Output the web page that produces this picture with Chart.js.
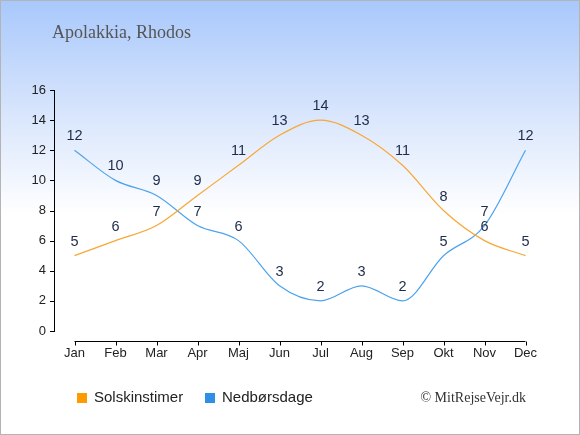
<!DOCTYPE html>
<html>
<head>
<meta charset="utf-8">
<script src="https://cdn.jsdelivr.net/npm/chart.js@4/dist/chart.umd.min.js"></script>
<style>
  body { margin: 0; background: #fff; }
  canvas { display: block; }
</style>
</head>
<body>
<canvas id="chart" width="580" height="435"></canvas>
<script>
const months = ["Jan", "Feb", "Mar", "Apr", "Maj", "Jun", "Jul", "Aug", "Sep", "Okt", "Nov", "Dec"];
const sunHours = [5, 6, 7, 9, 11, 13, 14, 13, 11, 8, 6, 5];
const rainDays = [12, 10, 9, 7, 6, 3, 2, 3, 2, 5, 7, 12];
const yTicks = [0, 2, 4, 6, 8, 10, 12, 14, 16];

const titleText = "Apolakkia, Rhodos";
const creditText = "\u00a9 MitRejseVejr.dk";

// background, frame, title, axes, labels, legend
const decor = {
  id: "decor",
  beforeDraw(chart) {
    const c = chart.ctx;
    const g = c.createLinearGradient(0, 0, 0, 215);
    g.addColorStop(0, "#a8c8fc");
    g.addColorStop(0.5, "#d6e4fc");
    g.addColorStop(1, "#ffffff");
    c.save();
    c.fillStyle = g;
    c.fillRect(0, 0, chart.width, chart.height);
    c.strokeStyle = "#b4b4b4";
    c.lineWidth = 1;
    c.strokeRect(0.5, 0.5, chart.width - 1, chart.height - 1);
    c.restore();
  },
  afterDatasetsDraw(chart) {
    const c = chart.ctx;
    const x = chart.scales.x;
    const y = chart.scales.y;
    const a = chart.chartArea;
    c.save();
    c.strokeStyle = "#000";
    c.lineWidth = 1;
    // y axis
    c.beginPath();
    c.moveTo(a.left + 0.5, y.getPixelForValue(16));
    c.lineTo(a.left + 0.5, y.getPixelForValue(0));
    yTicks.forEach(v => {
      const py = Math.round(y.getPixelForValue(v)) + 0.5;
      c.moveTo(a.left - 4, py);
      c.lineTo(a.left + 1, py);
    });
    // x axis, set a little below zero
    const ay = Math.round(a.bottom) + 10.5;
    c.moveTo(x.getPixelForValue(0), ay);
    c.lineTo(x.getPixelForValue(months.length - 1), ay);
    months.forEach((m, i) => {
      const px = Math.round(x.getPixelForValue(i)) + 0.5;
      c.moveTo(px, ay);
      c.lineTo(px, ay + 4);
    });
    c.stroke();

    // value labels above the points
    c.font = "14.5px 'Liberation Sans', Arial, sans-serif";
    c.fillStyle = "#1e2b4a";
    c.textAlign = "center";
    c.textBaseline = "middle";
    chart.data.datasets.forEach((ds, di) => {
      chart.getDatasetMeta(di).data.forEach((pt, i) => {
        c.fillText(String(ds.data[i]), pt.x, pt.y - 14);
      });
    });

    // title
    c.font = "18px 'Liberation Serif', Georgia, serif";
    c.fillStyle = "#555";
    c.textAlign = "left";
    c.fillText(titleText, 52, 33);

    // legend
    c.font = "15px 'Liberation Sans', Arial, sans-serif";
    let lx = 77;
    chart.data.datasets.forEach(ds => {
      c.fillStyle = ds.backgroundColor;
      c.fillRect(lx, 393, 10, 10);
      c.fillStyle = "#222";
      c.fillText(ds.label, lx + 17, 398);
      lx += 128;
    });

    // credit
    c.font = "14px 'Liberation Serif', 'Times New Roman', serif";
    c.fillStyle = "#333";
    c.textAlign = "right";
    c.fillText(creditText, 526, 398);
    c.restore();
  }
};

new Chart(document.getElementById("chart"), {
  type: "line",
  data: {
    labels: months,
    datasets: [
      {
        label: "Solskinstimer",
        data: sunHours,
        borderColor: "#f8a735",
        backgroundColor: "#ff9a00",
        borderWidth: 1.2,
        pointRadius: 0,
        cubicInterpolationMode: "monotone",
        fill: false,
      },
      {
        label: "Nedbørsdage",
        data: rainDays,
        borderColor: "#4da3ee",
        backgroundColor: "#2e8fe6",
        borderWidth: 1.2,
        pointRadius: 0,
        cubicInterpolationMode: "monotone",
        fill: false,
      },
    ],
  },
  options: {
    responsive: false,
    animation: false,
    devicePixelRatio: 1,
    layout: { padding: { left: 0, right: 34, top: 90, bottom: 70 } },
    plugins: { legend: { display: false }, title: { display: false }, tooltip: { enabled: false } },
    scales: {
      x: {
        offset: true,
        grid: { display: false, drawTicks: false },
        border: { display: false },
        ticks: { padding: 15, color: "#222", font: { size: 13, family: "'Liberation Sans', Arial, sans-serif" } },
        afterFit: s => { s.height = 34; },
      },
      y: {
        min: 0,
        max: 16,
        grid: { display: false, drawTicks: false },
        border: { display: false },
        ticks: { stepSize: 2, padding: 8, color: "#222", font: { size: 13, family: "'Liberation Sans', Arial, sans-serif" } },
        afterFit: s => { s.width = 54; },
      },
    },
  },
  plugins: [decor],
});
</script>
</body>
</html>
